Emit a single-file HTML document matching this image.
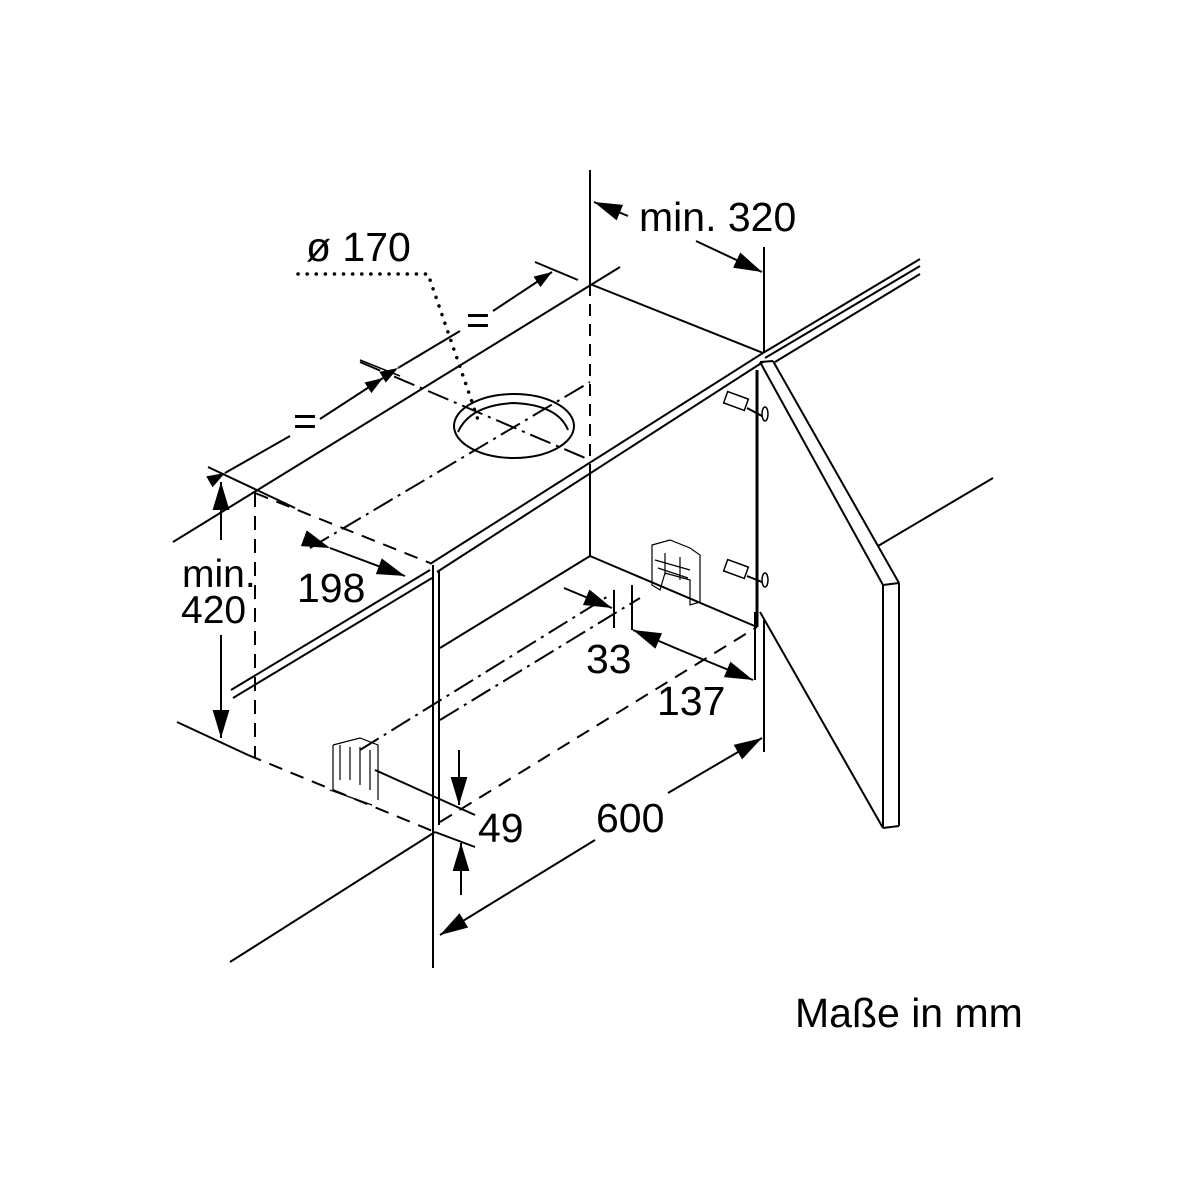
<!DOCTYPE html>
<html><head><meta charset="utf-8"><style>
html,body{margin:0;padding:0;background:#fff;}
svg{display:block;}
text{font-family:"Liberation Sans",sans-serif;fill:#000;}
</style></head><body>
<svg width="1200" height="1200" viewBox="0 0 1200 1200" xmlns="http://www.w3.org/2000/svg">
<defs>
<marker id="a" viewBox="0 0 10 10" refX="10" refY="5" markerWidth="18" markerHeight="18" markerUnits="userSpaceOnUse" orient="auto"><path d="M0,1.5 L10,5 L0,8.5 z" fill="#000"/></marker>
<marker id="b" viewBox="0 0 10 10" refX="10" refY="5" markerWidth="28" markerHeight="28" markerUnits="userSpaceOnUse" orient="auto"><path d="M0,2 L10,5 L0,8 z" fill="#000"/></marker>
</defs>
<g stroke="#000" stroke-width="2" fill="none" stroke-linecap="butt">
<line x1="173" y1="542" x2="620" y2="267"/>
<line x1="590" y1="284" x2="763" y2="353"/>
<line x1="590" y1="170" x2="590" y2="284"/>
<line x1="764" y1="247" x2="764" y2="353"/>
<line x1="590" y1="284" x2="590" y2="465" stroke-dasharray="12,8"/>
<line x1="255" y1="493" x2="430" y2="563" stroke-dasharray="14,9"/>
<line x1="255" y1="493" x2="255" y2="757" stroke-dasharray="14,9"/>
<line x1="208" y1="467" x2="295" y2="508"/>
<line x1="430" y1="564" x2="763" y2="353"/>
<line x1="437" y1="572" x2="763" y2="362"/>
<line x1="231" y1="690" x2="430" y2="570"/>
<line x1="233" y1="698" x2="432" y2="578"/>
<line x1="763" y1="353" x2="920" y2="259"/>
<line x1="775" y1="362" x2="920" y2="274"/>
<line x1="765" y1="358" x2="920" y2="266"/>
<line x1="433" y1="565" x2="433" y2="832"/>
<line x1="439" y1="570" x2="439" y2="825"/>
<line x1="177" y1="722" x2="248" y2="755"/>
<line x1="248" y1="755" x2="435" y2="832" stroke-dasharray="14,9"/>
<line x1="435" y1="832" x2="230" y2="962"/>
<line x1="433" y1="832" x2="433" y2="968"/>
<line x1="590" y1="465" x2="590" y2="556"/>
<line x1="590" y1="556" x2="440" y2="648"/>
<line x1="590" y1="556" x2="757" y2="627"/>
<line x1="757" y1="370" x2="757" y2="627" stroke-width="3"/>
<line x1="440" y1="822" x2="757" y2="627" stroke-dasharray="14,9"/>
<line x1="360" y1="750" x2="610" y2="595" stroke-dasharray="22,6,3,6"/>
<line x1="440" y1="720" x2="640" y2="598" stroke-dasharray="22,6,3,6"/>
<line x1="310" y1="548" x2="590" y2="382" stroke-dasharray="22,6,3,6"/>
<line x1="360" y1="362" x2="590" y2="460" stroke-dasharray="22,6,3,6"/>
<ellipse cx="514" cy="426" rx="60" ry="32"/>
<path d="M458,432 Q470,405 514,403 Q558,405 568,430"/>
<line x1="760" y1="362" x2="773" y2="361"/>
<line x1="760" y1="362" x2="883" y2="585"/>
<line x1="773" y1="361" x2="899" y2="583"/>
<line x1="883" y1="585" x2="899" y2="583"/>
<line x1="883" y1="585" x2="883" y2="828"/>
<line x1="899" y1="583" x2="899" y2="826"/>
<line x1="883" y1="828" x2="899" y2="826"/>
<line x1="760" y1="612" x2="883" y2="828"/>
<line x1="878" y1="546" x2="993" y2="478"/>
<rect x="725" y="395" width="22" height="12" transform="rotate(20 736 401)" stroke-width="1.5"/>
<line x1="747" y1="408" x2="762" y2="416"/>
<ellipse cx="765" cy="414" rx="3" ry="7" stroke-width="1.5"/>
<rect x="725" y="563" width="22" height="12" transform="rotate(20 736 569)" stroke-width="1.5"/>
<line x1="747" y1="576" x2="762" y2="582"/>
<ellipse cx="765" cy="580" rx="3" ry="7" stroke-width="1.5"/>
<g stroke-width="1.2">
<path d="M652,545 L670,540 L690,548 L700,555 L700,602 L690,605 L690,580 L665,573 L660,590 L652,585 Z"/>
<path d="M655,560 L690,570 M658,568 L688,578 M665,553 L665,575 M680,557 L680,580"/>
<path d="M333,745 L360,738 L378,745 L378,800 M333,745 L333,790 M340,745 L340,780 M350,747 L350,780 M360,747 L360,785 M370,750 L370,790 M330,790 L372,805"/>
</g>
<line x1="375" y1="770" x2="475" y2="815"/>
<line x1="435" y1="832" x2="475" y2="847"/>
<line x1="225" y1="473" x2="290" y2="436" marker-start="url(#a)"/>
<line x1="320" y1="419" x2="383" y2="378" marker-end="url(#a)"/>
<line x1="360" y1="360" x2="400" y2="376" stroke-width="1.5"/>
<line x1="398" y1="368" x2="460" y2="331" marker-start="url(#a)"/>
<line x1="493" y1="311" x2="552" y2="272" marker-end="url(#a)"/>
<line x1="535" y1="262" x2="578" y2="280"/>
<path d="M298,274 L428,274 L472,402 L480,426" stroke-width="3.5" stroke-dasharray="0.1,9" stroke-linecap="round"/>
<line x1="330" y1="548" x2="405" y2="576" marker-start="url(#b)" marker-end="url(#b)"/>
<line x1="221" y1="540" x2="221" y2="482" marker-end="url(#b)"/>
<line x1="221" y1="635" x2="221" y2="738" marker-end="url(#b)"/>
<line x1="628" y1="216" x2="594" y2="202" marker-end="url(#b)"/>
<line x1="696" y1="241" x2="762" y2="272" marker-end="url(#b)"/>
<line x1="564" y1="588" x2="612" y2="608" marker-end="url(#b)"/>
<line x1="614" y1="590" x2="614" y2="628"/>
<line x1="632" y1="585" x2="632" y2="630"/>
<line x1="680" y1="650" x2="633" y2="630" marker-end="url(#b)"/>
<line x1="680" y1="650" x2="753" y2="680" marker-end="url(#b)"/>
<line x1="755" y1="612" x2="755" y2="680"/>
<line x1="764" y1="620" x2="764" y2="752"/>
<line x1="595" y1="840" x2="440" y2="935" marker-end="url(#b)"/>
<line x1="668" y1="793" x2="762" y2="738" marker-end="url(#b)"/>
<line x1="459" y1="750" x2="459" y2="805" marker-end="url(#b)"/>
<line x1="461" y1="895" x2="461" y2="843" marker-end="url(#b)"/>
</g>
<g font-size="41">
<text x="306" y="261">ø 170</text>
<text x="639" y="231">min. 320</text>
<text x="466" y="334">=</text>
<text x="293" y="435">=</text>
<text x="182" y="587" font-size="39">min.</text>
<text x="181" y="623" font-size="39">420</text>
<text x="297" y="602">198</text>
<text x="586" y="673">33</text>
<text x="657" y="715">137</text>
<text x="596" y="832">600</text>
<text x="478" y="842">49</text>
<text x="795" y="1027">Maße in mm</text>
</g>
</svg>
</body></html>
